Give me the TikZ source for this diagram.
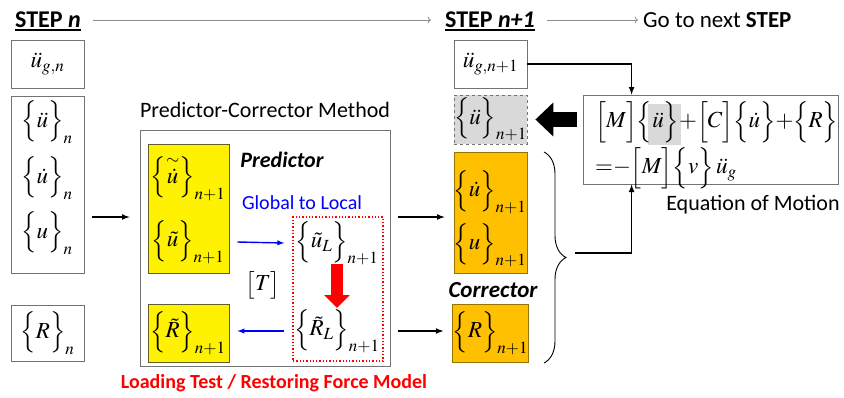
\documentclass[tikz,border=0pt]{standalone}
\usepackage{mathptmx}
\usepackage[no-math]{fontspec}
\setmainfont{Carlito}
\usepackage{amsmath}
\usepackage{xcolor}
\usetikzlibrary{arrows, arrows.meta, positioning, decorations.pathreplacing}
\definecolor{amber}{HTML}{FFC000}
\definecolor{lgray}{HTML}{D9D9D9}

\begin{document}
\begin{tikzpicture}[x=1pt, y=-1pt,
    box/.style = {draw=black!55, fill=white, line width=0.8pt, inner sep=0},
    ybox/.style = {draw=olive!60!black, fill=yellow, line width=0.8pt, inner sep=0},
    obox/.style = {draw=amber!60!black, fill=amber, line width=0.8pt, inner sep=0},
    gbox/.style = {draw=black!55, dashed, fill=lgray, line width=0.8pt, inner sep=0},
    mth/.style = {font=\fontsize{23}{27}\selectfont, inner sep=0},
    lbl/.style = {font=\fontsize{22}{25}\selectfont, inner sep=0},
    hd/.style = {font=\fontsize{24}{27}\selectfont\bfseries, inner sep=0},
    bi/.style = {font=\fontsize{22}{25}\selectfont\bfseries\itshape, inner sep=0},
    flow/.style = {-latex, line width=1.6pt},
    gflow/.style = {->, draw=black!45, line width=0.8pt},
    bflow/.style = {-latex, draw=blue, line width=1.4pt}]

      \useasboundingbox (0,0) rectangle (844,397);

      \node[hd] (stepn) at (48,20) {STEP \textit{n}};
      \node[hd] (stepm) at (490,20) {STEP \textit{n+1}};
      \node[hd, font=\fontsize{23}{26}\selectfont, anchor=west] (next) at (643,20) {Go to next \textbf{STEP}};
      \draw[line width=1.6pt] ([yshift=-2]stepn.south west) -- ([yshift=-2]stepn.south east);
      \draw[line width=1.6pt] ([yshift=-2]stepm.south west) -- ([yshift=-2]stepm.south east);
      \draw[gflow] ([xshift=12]stepn.east) -- ([xshift=-14]stepm.west);
      \draw[gflow] ([xshift=12]stepm.east) -- ([xshift=-5]next.west);

      \node[box, mth, minimum width=73, minimum height=48] (ugn) at (47.5,64) {$\ddot{u}_{g,n}$};
      \node[box, minimum width=73, minimum height=177] (stn) at (47.5,184.5) {};
      \node[mth] (an) at (47,122) {$\Bigl\{\ddot{u}\Bigr\}_n$};
      \node[mth] (vn) at (47,178) {$\Bigl\{\dot{u}\Bigr\}_n$};
      \node[mth] (dn) at (47,233) {$\Bigl\{u\Bigr\}_n$};
      \node[box, mth, minimum width=73, minimum height=56] (rn) at (47.5,333) {$\Bigl\{R\Bigr\}_n$};

      \node[lbl] (pclbl) at (265,110) {Predictor-Corrector Method};
      \node[box, minimum width=250, minimum height=236] (pc) at (265,248) {};
      \node[ybox, minimum width=81, minimum height=129] (yp) at (188.5,208.5) {};
      \node[ybox, minimum width=81, minimum height=58] (yr) at (188.5,333) {};
      \node[mth] (pv) at (188,178) {$\Bigl\{\overset{\sim}{\dot{u}}\Bigr\}_{n+1}$};
      \node[mth] (pd) at (188,242) {$\Bigl\{\tilde{u}\Bigr\}_{n+1}$};
      \node[mth] (pr) at (188,333) {$\Bigl\{\tilde{R}\Bigr\}_{n+1}$};
      \node[bi] (pred) at (282,160) {Predictor};
      \node[lbl, font=\fontsize{20}{23}\selectfont, text=blue] (g2l) at (302,203) {Global to Local};
      \node[draw=red, dotted, line width=1.3pt, minimum width=90, minimum height=144] (loc) at (338,289) {};
      \node[mth] (ul) at (337,243) {$\Bigl\{\tilde{u}_L\Bigr\}_{n+1}$};
      \node[mth] (rl) at (337,331) {$\Bigl\{\tilde{R}_L\Bigr\}_{n+1}$};
      \node[mth] (tmat) at (263,285) {$\bigl[T\bigr]$};
      \node[lbl, text=red, font=\fontsize{20}{23}\selectfont\bfseries] (ltest) at (274,383) {Loading Test / Restoring Force Model};

      \draw[bflow] ([xshift=8]yp.east |- pd) -- ([xshift=-8]loc.west |- ul);
      \draw[bflow] ([xshift=-8]loc.west |- rl) -- ([xshift=8]yr.east |- rl);
      \draw[red, line width=12pt, -{Triangle[length=13pt, width=25pt]}] ([yshift=-21]ul.center) -- ([yshift=23]rl.center);

      \node[box, mth, minimum width=73, minimum height=48] (ugm) at (490.5,64) {$\ddot{u}_{g,n+1}$};
      \node[gbox, mth, minimum width=73, minimum height=49] (am) at (490.5,119.5) {$\Bigl\{\ddot{u}\Bigr\}_{n+1}$};
      \node[obox, minimum width=73, minimum height=121] (om) at (490.5,212.5) {};
      \node[mth] (vm) at (490,192) {$\Bigl\{\dot{u}\Bigr\}_{n+1}$};
      \node[mth] (dm) at (490,245) {$\Bigl\{u\Bigr\}_{n+1}$};
      \node[bi, font=\fontsize{23}{25}\selectfont\bfseries\itshape] (corr) at (493,290) {Corrector};
      \node[obox, mth, minimum width=73, minimum height=58] (rm) at (490.5,333) {$\Bigl\{R\Bigr\}_{n+1}$};

      \coordinate (a1) at (92,217);
      \draw[flow] (a1) -- ([xshift=-10]a1 -| pc.west);
      \draw[flow] ([xshift=8]pc.east |- a1) -- ([xshift=-9]om.west |- a1);
      \draw[flow] ([xshift=8]pc.east |- rl) -- ([xshift=-9]rm.west |- rl);

      \node[box, minimum width=255, minimum height=89] (eom) at (710.5,139.5) {};
      \node[fill=lgray, minimum width=33, minimum height=41] (hl) at (664.5,124.5) {};
      \node[mth, anchor=west] (eq1) at (595,122) {$\Bigl[M\Bigr]\Bigl\{\ddot{u}\Bigr\}{+}\Bigl[C\Bigr]\Bigl\{\dot{u}\Bigr\}{+}\Bigl\{R\Bigr\}$};
      \node[mth, anchor=west] (eq2) at (595,168) {${=}{-}\Bigl[M\Bigr]\Bigl\{v\Bigr\}\,\ddot{u}_g$};
      \node[lbl] (eomlbl) at (753,205) {Equation of Motion};

      \draw[line width=15pt, -{Triangle[length=18pt, width=33pt]}] ([xshift=-6]eom.west |- am) -- ([xshift=8]am.east);
      \draw[decorate, decoration={brace, amplitude=22pt}, line width=0.9pt] (544,152) -- (544,363);
      \coordinate (bt) at (575,253);
      \draw[flow] (bt) -| ([xshift=49]eom.south west);
      \draw[flow] (ugm.east) -| ([xshift=49]eom.north west);

    \end{tikzpicture}
\end{document}
